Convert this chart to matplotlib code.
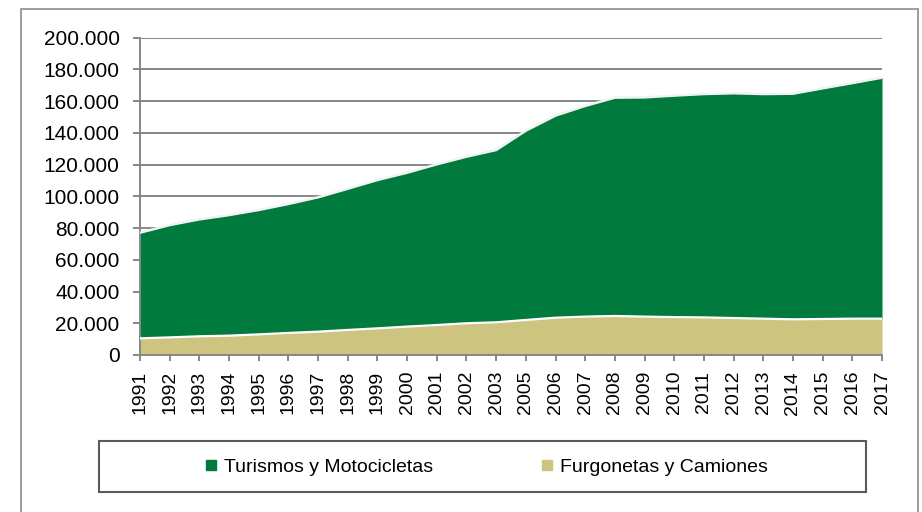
import matplotlib
matplotlib.use("Agg")
import matplotlib.pyplot as plt
from matplotlib.lines import Line2D
from matplotlib.patches import Rectangle

years = ["1991", "1992", "1993", "1994", "1995", "1996", "1997", "1998", "1999",
         "2000", "2001", "2002", "2003", "2005", "2006", "2007", "2008", "2009",
         "2010", "2011", "2012", "2013", "2014", "2015", "2016", "2017"]
# furgonetas y camiones (bottom layer)
furgonetas = [10500, 11100, 11800, 12200, 13000, 13900, 14700, 15800, 16800,
              17900, 18900, 20000, 20600, 22100, 23500, 24200, 24600, 24200,
              23900, 23700, 23300, 22900, 22500, 22700, 22900, 22900]
# turismos y motocicletas (stacked on top)
turismos = [66600, 70800, 73700, 76000, 78400, 81300, 84700, 89000, 93500,
            97000, 101300, 105000, 108600, 119300, 127400, 132800, 137600, 138200,
            139600, 140800, 141700, 141600, 142200, 145400, 148500, 151900]
yticks = [0, 20000, 40000, 60000, 80000, 100000, 120000, 140000, 160000, 180000, 200000]
ytick_labels = ["0", "20.000", "40.000", "60.000", "80.000", "100.000", "120.000",
                "140.000", "160.000", "180.000", "200.000"]

green = "#007a3d"
tan = "#cdc57f"
grey = "#878787"

W, H = 922, 512
fig = plt.figure(figsize=(W / 100, H / 100), dpi=100)
ax = fig.add_axes([140 / W, (H - 355) / H, (882 - 140) / W, (355 - 37.7) / H])

x = list(range(len(years)))
total = [a + b for a, b in zip(furgonetas, turismos)]

ax.fill_between(x, 0, furgonetas, color=tan, lw=0, zorder=2)
ax.fill_between(x, furgonetas, total, color=green, lw=0, zorder=2)
ax.plot(x, furgonetas, color="white", lw=1.6, zorder=3)
ax.plot(x, total, color="#f2f2f2", lw=1.8, zorder=3)

ax.set_xlim(0, len(years) - 1)
ax.set_ylim(0, 200000)
ax.set_yticks(yticks)
ax.set_yticklabels(ytick_labels, fontsize=15, family="Liberation Sans", color="black")
ax.set_xticks(x)
ax.set_xticklabels(years, rotation=90, fontsize=14, family="Liberation Sans", color="black")

ax.grid(axis="y", color=grey, lw=1.4, zorder=1)
ax.set_axisbelow(True)
for s in ["top", "right"]:
    ax.spines[s].set_visible(False)
for s in ["left", "bottom"]:
    ax.spines[s].set_color(grey)
    ax.spines[s].set_linewidth(1.4)
ax.tick_params(axis="y", length=5.2, width=1.4, color=grey, pad=9.5)
ax.tick_params(axis="x", length=4, width=1.4, color=grey, pad=7.5)

# outer frame
fig.patches.append(Rectangle((21 / W, -0.1), (918 - 21) / W, (H - 9) / H + 0.1,
                             transform=fig.transFigure, fill=False,
                             edgecolor="#8c8c8c", lw=1.2))
# legend box
fig.patches.append(Rectangle((99 / W, (H - 492) / H), (866 - 99) / W, (492 - 441) / H,
                             transform=fig.transFigure, fill=False,
                             edgecolor="#5a5a5a", lw=1.5))

handles = [Line2D([], [], ls="", marker="s", markersize=7.2, color=green),
           Line2D([], [], ls="", marker="s", markersize=7.2, color=tan)]
fig.legend(handles, ["Turismos y Motocicletas", "Furgonetas y Camiones"],
           loc="center", bbox_to_anchor=(487 / W, (H - 467) / H), ncol=2,
           frameon=False, handlelength=0.5, handletextpad=0.4, columnspacing=5.6,
           prop={"family": "Liberation Sans", "size": 14})

fig.savefig("out.png", dpi=100)
